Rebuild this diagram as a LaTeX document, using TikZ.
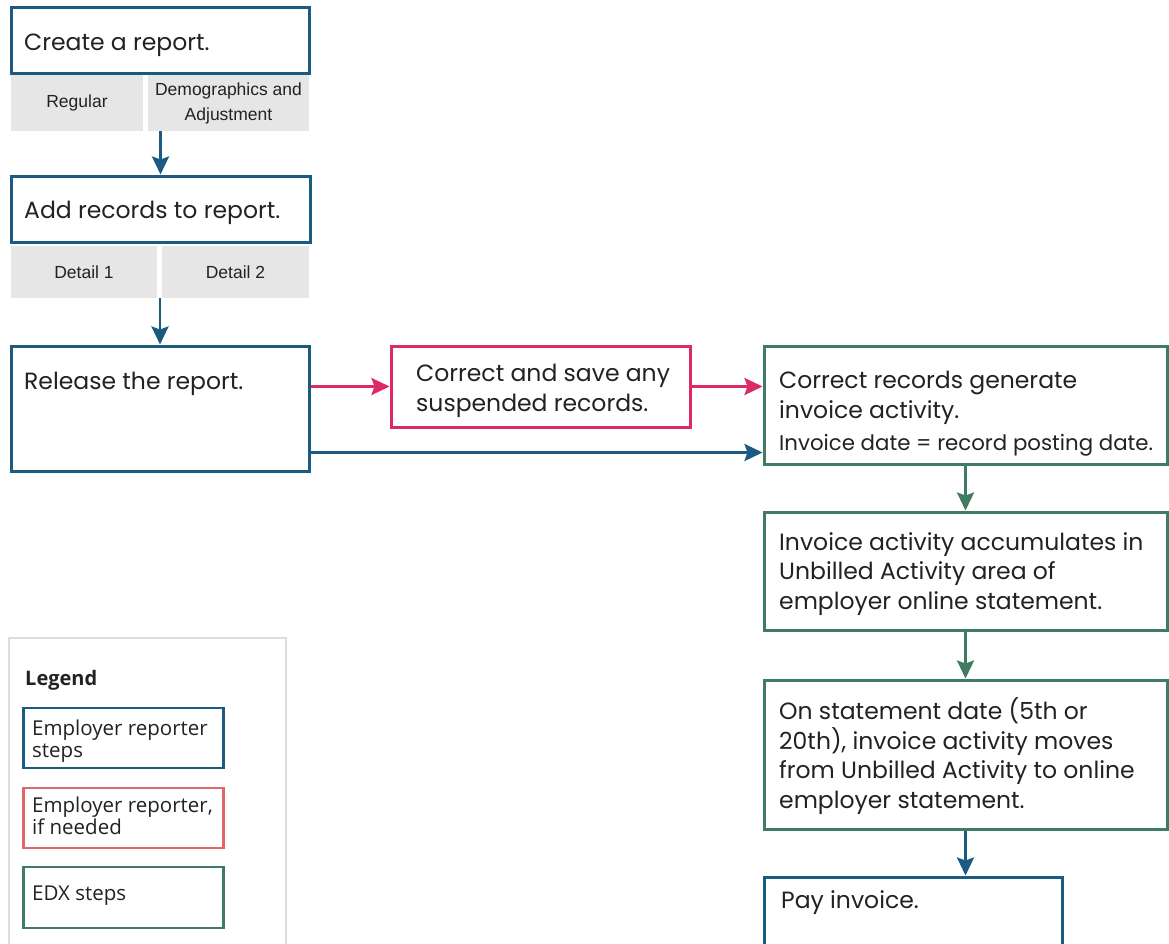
\documentclass[tikz,border=0pt]{standalone}
\usepackage{fontspec}
\setmainfont{Poppins}
\newfontfamily\narrowfont{Liberation Sans}
\newfontfamily\legfont{Open Sans}
\usetikzlibrary{arrows.meta}
\definecolor{cblue}{HTML}{1B5B82}
\definecolor{cpink}{HTML}{DE2A62}
\definecolor{cgreen}{HTML}{3F7C62}
\definecolor{cred}{HTML}{E06868}
\definecolor{cgray}{HTML}{E6E6E6}
\definecolor{clegend}{HTML}{DCDCDC}
\definecolor{ctext}{HTML}{222222}
\tikzset{
  bluebox/.style={draw=cblue,line width=3pt,fill=white,inner sep=0pt},
  pinkbox/.style={draw=cpink,line width=3pt,fill=white,inner sep=0pt},
  greenbox/.style={draw=cgreen,line width=3pt,fill=white,inner sep=0pt},
  redbox/.style={draw=cred,line width=2.6pt,fill=white,inner sep=0pt},
  graycell/.style={fill=cgray,inner sep=0pt,font=\narrowfont\fontsize{17.5}{25}\selectfont,text=ctext,align=center},
  maintext/.style={anchor=base west,inner sep=0pt,align=left,text=ctext,font=\fontsize{23.5}{29.5}\selectfont},
  smalltext/.style={anchor=base west,inner sep=0pt,align=left,text=ctext,font=\fontsize{21.3}{24}\selectfont},
  legtext/.style={anchor=base west,inner sep=0pt,align=left,text=ctext,font=\legfont\fontsize{20.5}{22}\selectfont},
  arr/.style={line width=2.8pt,-{Stealth[length=18pt,width=17pt,inset=3pt]}},
}
\begin{document}
\begin{tikzpicture}[x=1pt,y=-1pt]
\useasboundingbox[fill=white] (0,0) rectangle (1169,943);
% left column
\node[bluebox,minimum width=298pt,minimum height=66pt] (create) at (160,40) {};
\node[maintext] (createt) at (24,50) {Create a report.};
\node[graycell,minimum width=132pt,minimum height=56pt] (regular) at (77,103) {Regular};
\node[graycell,minimum width=161pt,minimum height=56pt] (demo) at (228.5,103) {Demographics and\\Adjustment};
\node[bluebox,minimum width=299pt,minimum height=66pt] (add) at (160.5,209) {};
\node[maintext] (addt) at (24,218) {Add records to report.};
\node[graycell,minimum width=146pt,minimum height=52pt] (det1) at (84,272) {Detail 1};
\node[graycell,minimum width=147pt,minimum height=52pt] (det2) at (235.5,272) {Detail 2};
\node[bluebox,minimum width=298pt,minimum height=125pt] (release) at (160,408.5) {};
\node[maintext] (releaset) at (24,389) {Release the report.};
% pink
\node[pinkbox,minimum width=299pt,minimum height=81pt] (pink) at (540.5,386.5) {};
\node[maintext] (pinkt) at (416,411) {Correct and save any\\suspended records.};
% green column
\node[greenbox,minimum width=403pt,minimum height=118pt] (g1) at (965.5,405) {};
\node[maintext] (g1t) at (779,418) {Correct records generate\\invoice activity.};
\node[smalltext] (g1s) at (779,450) {Invoice date = record posting date.};
\node[greenbox,minimum width=403pt,minimum height=118pt] (g2) at (965.5,571) {};
\node[maintext] (g2t) at (779,609) {Invoice activity accumulates in\\Unbilled Activity area of\\employer online statement.};
\node[greenbox,minimum width=403pt,minimum height=149pt] (g3) at (965.5,754.5) {};
\node[maintext] (g3t) at (779,808) {On statement date (5th or\\20th), invoice activity moves\\from Unbilled Activity to online\\employer statement.};
\node[bluebox,minimum width=298pt,minimum height=90pt] (pay) at (913,922) {};
\node[maintext] (payt) at (781,908) {Pay invoice.};
% legend
\node[draw=clegend,line width=1.4pt,fill=white,minimum width=277pt,minimum height=330pt,inner sep=0pt] (legend) at (147.5,803) {};
\node[anchor=base west,inner sep=0pt,text=ctext,font=\legfont\bfseries\fontsize{20}{22}\selectfont] (legt) at (25,685) {Legend};
\node[bluebox,line width=2.6pt,minimum width=200pt,minimum height=60pt] (lb) at (123.5,738) {};
\node[legtext] (lbt) at (32,757) {Employer reporter\\steps};
\node[redbox,minimum width=200pt,minimum height=60pt] (lr) at (123.5,818) {};
\node[legtext] (lrt) at (32,834) {Employer reporter,\\if needed};
\node[greenbox,line width=2.6pt,minimum width=200pt,minimum height=61pt] (lg) at (123.5,897.5) {};
\node[legtext] (lgt) at (32,900) {EDX steps};
% connectors
\draw[arr,cblue] (add.north |- demo.south) -- (add.north);
\draw[arr,cblue] (release.north |- det2.south) -- (release.north);
\draw[arr,cpink] (release.east |- pink.west) -- (pink.west);
\draw[arr,cpink] (pink.east) -- (g1.west |- pink.east);
\coordinate (bl) at ([yshift=20pt]release.south east);
\draw[arr,cblue] (bl) -- (g1.west |- bl);
\draw[arr,cgreen] (g1.south) -- (g2.north);
\draw[arr,cgreen] (g2.south) -- (g3.north);
\draw[arr,cblue] (g3.south) -- (g3.south |- pay.north);
\end{tikzpicture}
\end{document}
